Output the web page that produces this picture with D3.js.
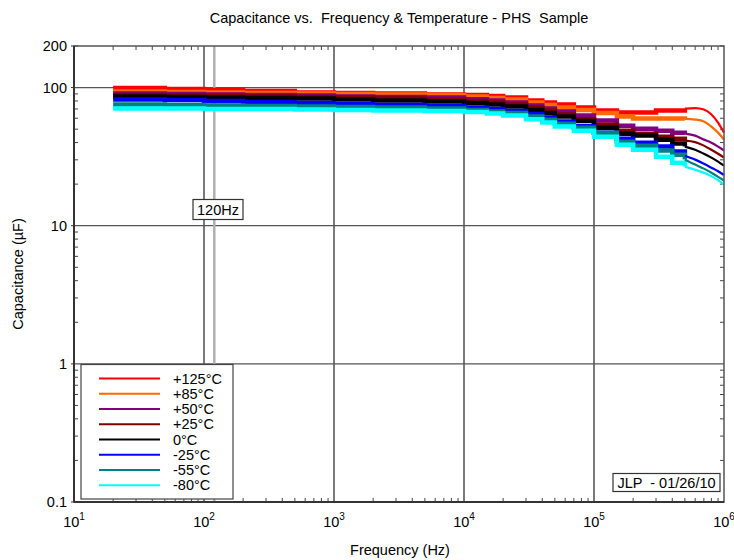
<!DOCTYPE html>
<html><head><meta charset="utf-8">
<script src="https://cdn.jsdelivr.net/npm/d3@7"></script>
<style>
body{margin:0;background:#fff;}
text{font-family:"Liberation Sans",Arial,sans-serif;}
</style></head>
<body><svg id="c" width="734" height="560"></svg>
<script>
// Frequencies (Hz) of the stepped part and of the smooth tail
const stepFreqs = [20,50,100,200,500,1000,2000,5000,10000,15000,20000,30000,40000,50000,70000,100000,150000,200000,300000,400000];
const tailFreqs = [500000,600000,700000,800000,900000,1000000];

const seriesNames = ["+125°C","+85°C","+50°C","+25°C","0°C","-25°C","-55°C","-80°C"];
const seriesColors = ["#ff0000","#ff6a00","#800080","#800000","#000000","#0000ff","#008080","#00ffff"];

// Capacitance (µF) – stepped part
const step125 = [99.2,97.5,95.9,94.3,92.0,91.2,90.5,89.0,88.2,86.8,84.6,80.5,77.9,75.3,71.7,68.2,65.9,65.9,68.2,68.2];
const step85  = [93.6,92.8,92.0,91.2,90.5,89.7,89.0,88.2,86.1,84.0,81.9,77.9,74.7,71.7,68.7,65.4,61.7,59.7,59.7,59.7];
const step50  = [90.5,89.7,89.0,88.2,87.5,86.1,85.3,84.6,82.5,80.5,77.9,74.1,70.5,67.0,62.7,57.7,53.0,50.4,48.8,47.2];
const step25  = [88.2,87.5,86.8,86.1,85.3,84.6,83.2,81.9,79.9,77.9,75.3,71.7,68.2,63.8,59.1,53.9,48.8,46.4,44.1,42.7];
const step0   = [86.1,85.3,84.6,84.0,83.2,81.9,80.5,79.2,77.2,75.3,72.9,68.7,65.4,61.7,57.2,51.3,46.4,44.9,42.0,39.3];
const stepm25 = [81.9,81.2,79.9,78.5,77.2,75.9,74.7,73.5,71.7,69.9,67.6,64.3,60.7,56.7,52.6,47.2,42.7,39.9,37.4,34.4];
const stepm55 = [75.3,74.7,74.1,73.5,72.9,72.3,71.7,70.5,68.7,67.0,65.4,61.7,58.6,54.8,51.3,47.2,40.6,38.0,35.0,32.7];
const stepm80 = [70.5,70.5,69.9,69.9,69.3,68.7,68.2,67.6,66.5,64.8,62.7,59.1,55.8,52.2,48.8,44.1,38.6,35.5,31.6,28.6];

// Capacitance (µF) – tail part
const tail125 = [70.5,71.1,69.3,63.8,55.8,47.2];
const tail85  = [59.4,58.7,56.8,52.2,47.2,42.1];
const tail50  = [46.4,44.9,42.0,39.9,37.4,35.0];
const tail25  = [41.3,40.3,38.0,35.5,33.2,31.1];
const tail0   = [37.4,35.5,33.2,31.1,29.1,27.2];
const tailm25 = [32.1,30.1,28.1,26.3,24.8,23.3];
const tailm55 = [30.1,27.7,25.9,24.2,22.6,21.2];
const tailm80 = [26.8,25.4,24.2,22.8,21.4,19.8];

const stepSeries = [step125,step85,step50,step25,step0,stepm25,stepm55,stepm80];
const tailSeries = [tail125,tail85,tail50,tail25,tail0,tailm25,tailm55,tailm80];

const yTickValues = [0.1,1,10,100,200];
const yTickLabels = ["0.1","1","10","100","200"];
const xTickExps = [1,2,3,4,5,6];
const markerFreq = 120;

const svg = d3.select("#c");
const L=74,R=724,T=46,B=502;
const FS = 14.5;
const x = d3.scaleLog().domain([10,1e6]).range([L,R]);
const y = d3.scaleLog().domain([0.1,200]).range([B,T]);

// grid
const g = svg.append("g");
[100,1000,10000,100000].forEach(v=>{
  g.append("line").attr("x1",x(v)).attr("x2",x(v)).attr("y1",T).attr("y2",B)
   .attr("stroke","#222").attr("stroke-width",1.2);
});
[1,10,100].forEach(v=>{
  g.append("line").attr("x1",L).attr("x2",R).attr("y1",y(v)).attr("y2",y(v))
   .attr("stroke","#555").attr("stroke-width",1.2);
});
// 120 Hz marker line
g.append("line").attr("x1",x(markerFreq)).attr("x2",x(markerFreq)).attr("y1",T).attr("y2",B)
  .attr("stroke","#b0b0b0").attr("stroke-width",2.5);

// minor ticks
const xMinor=[], yMinor=[];
for(let e=1;e<6;e++) for(let k=2;k<10;k++) xMinor.push(k*Math.pow(10,e));
for(let e=-1;e<3;e++) for(let k=2;k<10;k++){const v=k*Math.pow(10,e); if(v<=200) yMinor.push(v);}
xMinor.forEach(v=>{
  g.append("line").attr("x1",x(v)).attr("x2",x(v)).attr("y1",B).attr("y2",B-4).attr("stroke","#444");
  g.append("line").attr("x1",x(v)).attr("x2",x(v)).attr("y1",T).attr("y2",T+4).attr("stroke","#444");
});
yMinor.forEach(v=>{
  g.append("line").attr("x1",L).attr("x2",L+4).attr("y1",y(v)).attr("y2",y(v)).attr("stroke","#444");
  g.append("line").attr("x1",R).attr("x2",R-4).attr("y1",y(v)).attr("y2",y(v)).attr("stroke","#444");
});

// data
const stepLine = d3.line().x(d=>x(d[0])).y(d=>y(d[1])).curve(d3.curveStepAfter);
const tailLine = d3.line().x(d=>x(d[0])).y(d=>y(d[1])).curve(d3.curveMonotoneX);
const dg = svg.append("g");
stepSeries.forEach((s,i)=>{
  const pts = stepFreqs.map((f,j)=>[f,s[j]]);
  pts.push([tailFreqs[0],tailSeries[i][0]]);
  dg.append("path").attr("d",stepLine(pts)).attr("fill","none")
    .attr("stroke",seriesColors[i]).attr("stroke-width",4.5);
});
tailSeries.forEach((s,i)=>{
  const pts = tailFreqs.map((f,j)=>[f,s[j]]);
  dg.append("path").attr("d",tailLine(pts)).attr("fill","none")
    .attr("stroke",seriesColors[i]).attr("stroke-width",2.2);
});

// frame
svg.append("rect").attr("x",L).attr("y",T).attr("width",R-L).attr("height",B-T)
  .attr("fill","none").attr("stroke","#555").attr("stroke-width",1.5);
svg.append("line").attr("x1",L).attr("x2",L).attr("y1",T).attr("y2",B).attr("stroke","#333").attr("stroke-width",2);
svg.append("line").attr("x1",L).attr("x2",R).attr("y1",B).attr("y2",B).attr("stroke","#333").attr("stroke-width",2);

// y tick labels
yTickValues.forEach((v,i)=>{
  svg.append("text").attr("x",L-7).attr("y",y(v)+5).attr("text-anchor","end")
    .attr("font-size",FS).attr("fill","#000").text(yTickLabels[i]);
  svg.append("line").attr("x1",L-3).attr("x2",L).attr("y1",y(v)).attr("y2",y(v)).attr("stroke","#333");
});
// x tick labels
xTickExps.forEach(e=>{
  const t = svg.append("text").attr("x",x(Math.pow(10,e))).attr("y",527).attr("text-anchor","middle")
    .attr("font-size",FS).attr("fill","#000");
  t.append("tspan").text("10");
  t.append("tspan").attr("dy",-7).attr("font-size",10).text(e);
});

// titles
svg.append("text").attr("x",399).attr("y",23).attr("text-anchor","middle").attr("font-size",FS)
  .style("white-space","pre").text("Capacitance vs.  Frequency & Temperature - PHS  Sample");
svg.append("text").attr("x",400).attr("y",555).attr("text-anchor","middle").attr("font-size",FS)
  .text("Frequency (Hz)");
svg.append("text").attr("transform","translate(23,274) rotate(-90)").attr("text-anchor","middle")
  .attr("font-size",FS).text("Capacitance (µF)");

// 120Hz label
svg.append("rect").attr("x",193).attr("y",199.5).attr("width",50).attr("height",20)
  .attr("fill","#fff").attr("stroke","#333").attr("stroke-width",1.2);
svg.append("text").attr("x",218).attr("y",215).attr("text-anchor","middle").attr("font-size",FS).text("120Hz");

// JLP label
svg.append("rect").attr("x",613).attr("y",473.5).attr("width",107).attr("height",18)
  .attr("fill","#fff").attr("stroke","#333").attr("stroke-width",1.2);
svg.append("text").attr("x",666.5).attr("y",488).attr("text-anchor","middle").attr("font-size",FS)
  .style("white-space","pre").text("JLP  - 01/26/10");

// legend
const lg = svg.append("g");
lg.append("rect").attr("x",81).attr("y",364.5).attr("width",152).attr("height",134.5)
  .attr("fill","#fff").attr("stroke","#444").attr("stroke-width",1.2);
seriesNames.forEach((n,i)=>{
  const yy = 378.5 + i*15.25;
  lg.append("line").attr("x1",99).attr("x2",160).attr("y1",yy).attr("y2",yy)
    .attr("stroke",seriesColors[i]).attr("stroke-width",2.2);
  lg.append("text").attr("x",173).attr("y",yy+5).attr("font-size",FS).text(n);
});
</script></body></html>
